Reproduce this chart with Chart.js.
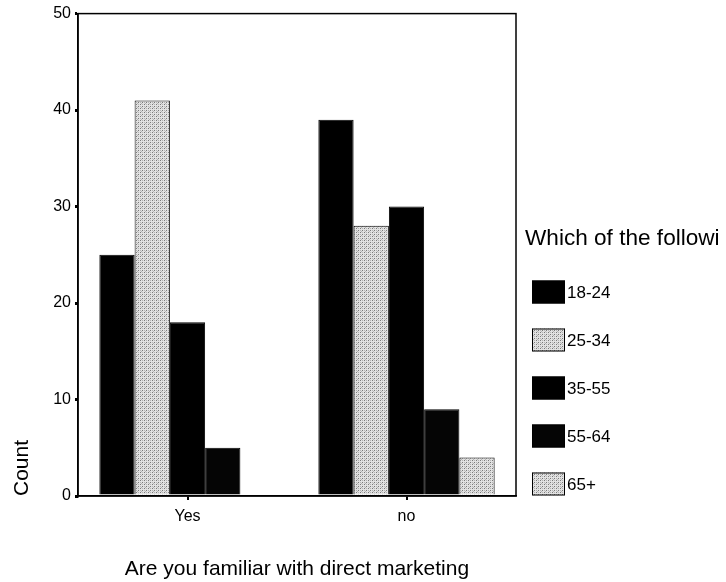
<!DOCTYPE html>
<html>
<head>
<meta charset="utf-8">
<script src="https://cdn.jsdelivr.net/npm/chart.js@4/dist/chart.umd.min.js"></script>
<style>
  html, body { margin: 0; padding: 0; background: #fff; }
  #wrap { width: 726px; height: 582px; position: relative; }
</style>
</head>
<body>
<div id="wrap"><canvas id="chart"></canvas></div>
<script>
const categories = ['Yes', 'no'];
const ageGroups = ['18-24', '25-34', '35-55', '55-64', '65+'];
const age18to24 = [25, 39];
const age25to34 = [41, 28];
const age35to55 = [18, 30];
const age55to64 = [5, 9];
const age65plus = [0, 4];
const yTicks = [0, 10, 20, 30, 40, 50];

const FONT = '"Liberation Sans", Arial, sans-serif';

// stippled light grey, like the printed hatch in the scan
function stipple() {
  const c = document.createElement('canvas');
  c.width = 4; c.height = 4;
  const g = c.getContext('2d');
  g.fillStyle = '#e2e2e2';
  g.fillRect(0, 0, 4, 4);
  g.fillStyle = '#7a7a7a';
  g.fillRect(0, 0, 1, 1);
  g.fillRect(2, 2, 1, 1);
  g.fillStyle = '#b4b4b4';
  g.fillRect(2, 0, 1, 1);
  g.fillRect(0, 2, 1, 1);
  g.fillRect(1, 3, 1, 1);
  return g.createPattern(c, 'repeat');
}
const light = stipple();

const series = [age18to24, age25to34, age35to55, age55to64, age65plus];
const fills = ['#000', light, '#000', '#050505', light];

const frame = {
  id: 'frame',
  afterDatasetsDraw(chart) {
    const { ctx, chartArea: a } = chart;
    ctx.save();
    ctx.strokeStyle = '#000';
    ctx.lineWidth = 1.5;
    ctx.strokeRect(a.left, a.top, a.right - a.left, a.bottom - a.top);
    ctx.restore();
  },
};

const sideLegend = {
  id: 'sideLegend',
  afterDraw(chart) {
    const { ctx, chartArea: a } = chart;
    const x0 = a.right + 9;
    ctx.save();
    ctx.fillStyle = '#000';
    ctx.textBaseline = 'middle';
    ctx.font = `22.6px ${FONT}`;
    ctx.fillText('Which of the followi', x0, 239);
    ctx.font = `17px ${FONT}`;
    chart.data.datasets.forEach((ds, i) => {
      const cy = 292 + i * 48;
      ctx.fillStyle = ds.backgroundColor;
      ctx.fillRect(x0 + 7, cy - 11.5, 33, 23);
      ctx.strokeStyle = '#000';
      ctx.lineWidth = 1;
      ctx.strokeRect(x0 + 7.5, cy - 11, 32, 22);
      ctx.fillStyle = '#000';
      ctx.fillText(ds.label, x0 + 42, cy + 1);
    });
    ctx.restore();
  },
};

new Chart(document.getElementById('chart'), {
  type: 'bar',
  data: {
    labels: categories,
    datasets: ageGroups.map((label, i) => ({
      label,
      data: series[i],
      backgroundColor: fills[i],
      borderColor: '#000',
      borderWidth: 1,
      categoryPercentage: 0.805,
      barPercentage: 1,
    })),
  },
  options: {
    responsive: true,
    maintainAspectRatio: false,
    animation: false,
    devicePixelRatio: 1,
    layout: { padding: { top: 13, left: 10, right: 210, bottom: 0 } },
    plugins: { legend: { display: false }, tooltip: { enabled: false } },
    scales: {
      x: {
        afterFit: (s) => { s.height = 86; },
        grid: { display: true, offset: false, drawOnChartArea: false, tickLength: 4, color: '#000', lineWidth: 2 },
        border: { display: true, color: '#000', width: 1.5 },
        ticks: { color: '#000', padding: 7, font: { family: FONT, size: 16 } },
        title: {
          display: true,
          text: 'Are you familiar with direct marketing',
          color: '#000',
          font: { family: FONT, size: 21 },
          padding: { top: 0, bottom: 0 },
        },
      },
      y: {
        min: 0,
        max: 50,
        afterFit: (s) => { s.width = 68; },
        afterBuildTicks: (s) => { s.ticks = yTicks.map((v) => ({ value: v })); },
        grid: { display: true, drawOnChartArea: false, tickLength: 3, color: '#000', lineWidth: 3 },
        border: { display: true, color: '#000', width: 1.5 },
        ticks: { color: '#000', padding: 4, font: { family: FONT, size: 16 } },
        title: {
          display: true,
          text: 'Count',
          align: 'start',
          color: '#000',
          font: { family: FONT, size: 21 },
          padding: { top: 0, bottom: 0 },
        },
      },
    },
  },
  plugins: [frame, sideLegend],
});
</script>
</body>
</html>
